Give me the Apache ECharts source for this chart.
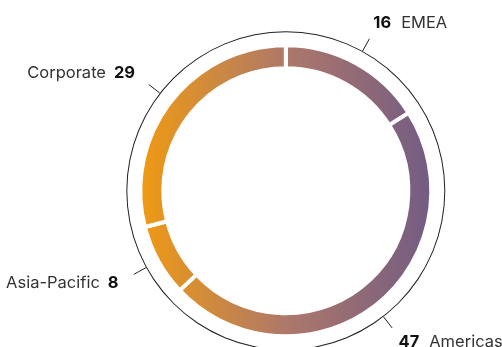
<!DOCTYPE html>
<html>
<head>
<meta charset="utf-8">
<script src="https://cdn.jsdelivr.net/npm/echarts@6/dist/echarts.min.js"></script>
<style>
html,body{margin:0;padding:0;background:#fff;}
#chart{width:502px;height:347px;}
</style>
</head>
<body>
<div id="chart"></div>
<script>
// ---- data ----
const categories = ['EMEA', 'Americas', 'Asia-Pacific', 'Corporate'];
const values = [16, 47, 8, 29];

// ---- layout constants ----
const CENTER = [285.8, 190.8];
const FONT = "Inter, 'Liberation Sans', Arial, sans-serif";
const FS = 16.5;

const total = values.reduce((a, b) => a + b, 0);
let acc = 0;
const sides = values.map(v => { const mid = acc + v / 2; acc += v; return mid < total / 2 ? 'right' : 'left'; });

const chart = echarts.init(document.getElementById('chart'), null, {renderer: 'canvas'});

const gradient = new echarts.graphic.LinearGradient(142, 0, 430, 0, [
  {offset: 0, color: '#EE9A14'},
  {offset: 0.5, color: '#AE786A'},
  {offset: 1, color: '#735C83'}
], true);

const baseData = categories.map((c, i) => ({name: c, value: values[i]}));

const labelData = categories.map((c, i) => ({
  name: c,
  value: values[i],
  label: {distanceToLabelLine: sides[i] === 'right' ? -5 : -1}
}));

const box = {left: 0, top: 0, width: 900, height: 600};

chart.setOption({
  animation: false,
  series: [
    // main donut
    Object.assign({
      type: 'pie',
      silent: true,
      center: CENTER,
      radius: [122.5, 145.5],
      startAngle: 90,
      clockwise: true,
      avoidLabelOverlap: false,
      label: {show: false},
      labelLine: {show: false},
      itemStyle: {color: gradient, borderColor: '#ffffff', borderWidth: 4},
      data: baseData
    }, box),
    // outer thin circle
    Object.assign({
      type: 'pie',
      silent: true,
      center: CENTER,
      radius: [158.5, 159.5],
      label: {show: false},
      labelLine: {show: false},
      itemStyle: {color: '#222222', borderWidth: 0},
      data: [{name: 'ring', value: total}]
    }, box),
    // tick marks
    Object.assign({
      type: 'pie',
      silent: true,
      center: CENTER,
      radius: [158, 159.5],
      startAngle: 90,
      avoidLabelOverlap: false,
      itemStyle: {color: 'rgba(0,0,0,0)', borderWidth: 0},
      label: {show: true, position: 'outside', formatter: () => ' ', color: 'rgba(0,0,0,0)', fontSize: 2},
      labelLine: {show: true, length: 14, length2: 0, smooth: false, lineStyle: {color: '#222222', width: 1}},
      data: baseData
    }, box),
    // labels
    Object.assign({
      type: 'pie',
      silent: true,
      center: CENTER,
      radius: [158, 159],
      startAngle: 90,
      avoidLabelOverlap: false,
      itemStyle: {color: 'rgba(0,0,0,0)', borderWidth: 0},
      label: {
        show: true,
        position: 'outside',
        formatter: p => sides[p.dataIndex] === 'right'
          ? '{n|' + p.value + '}{t|' + p.name + '}'
          : '{t2|' + p.name + '}{n|' + p.value + '}',
        rich: {
          n: {fontFamily: FONT, fontSize: FS, fontWeight: 'bold', color: '#111111'},
          t: {fontFamily: FONT, fontSize: FS, color: '#333333', padding: [0, 0, 0, 10]},
          t2: {fontFamily: FONT, fontSize: FS, color: '#333333', padding: [0, 8, 0, 0]}
        }
      },
      labelLine: {show: false, length: 33, length2: 0},
      data: labelData
    }, box)
  ]
});
</script>
</body>
</html>
